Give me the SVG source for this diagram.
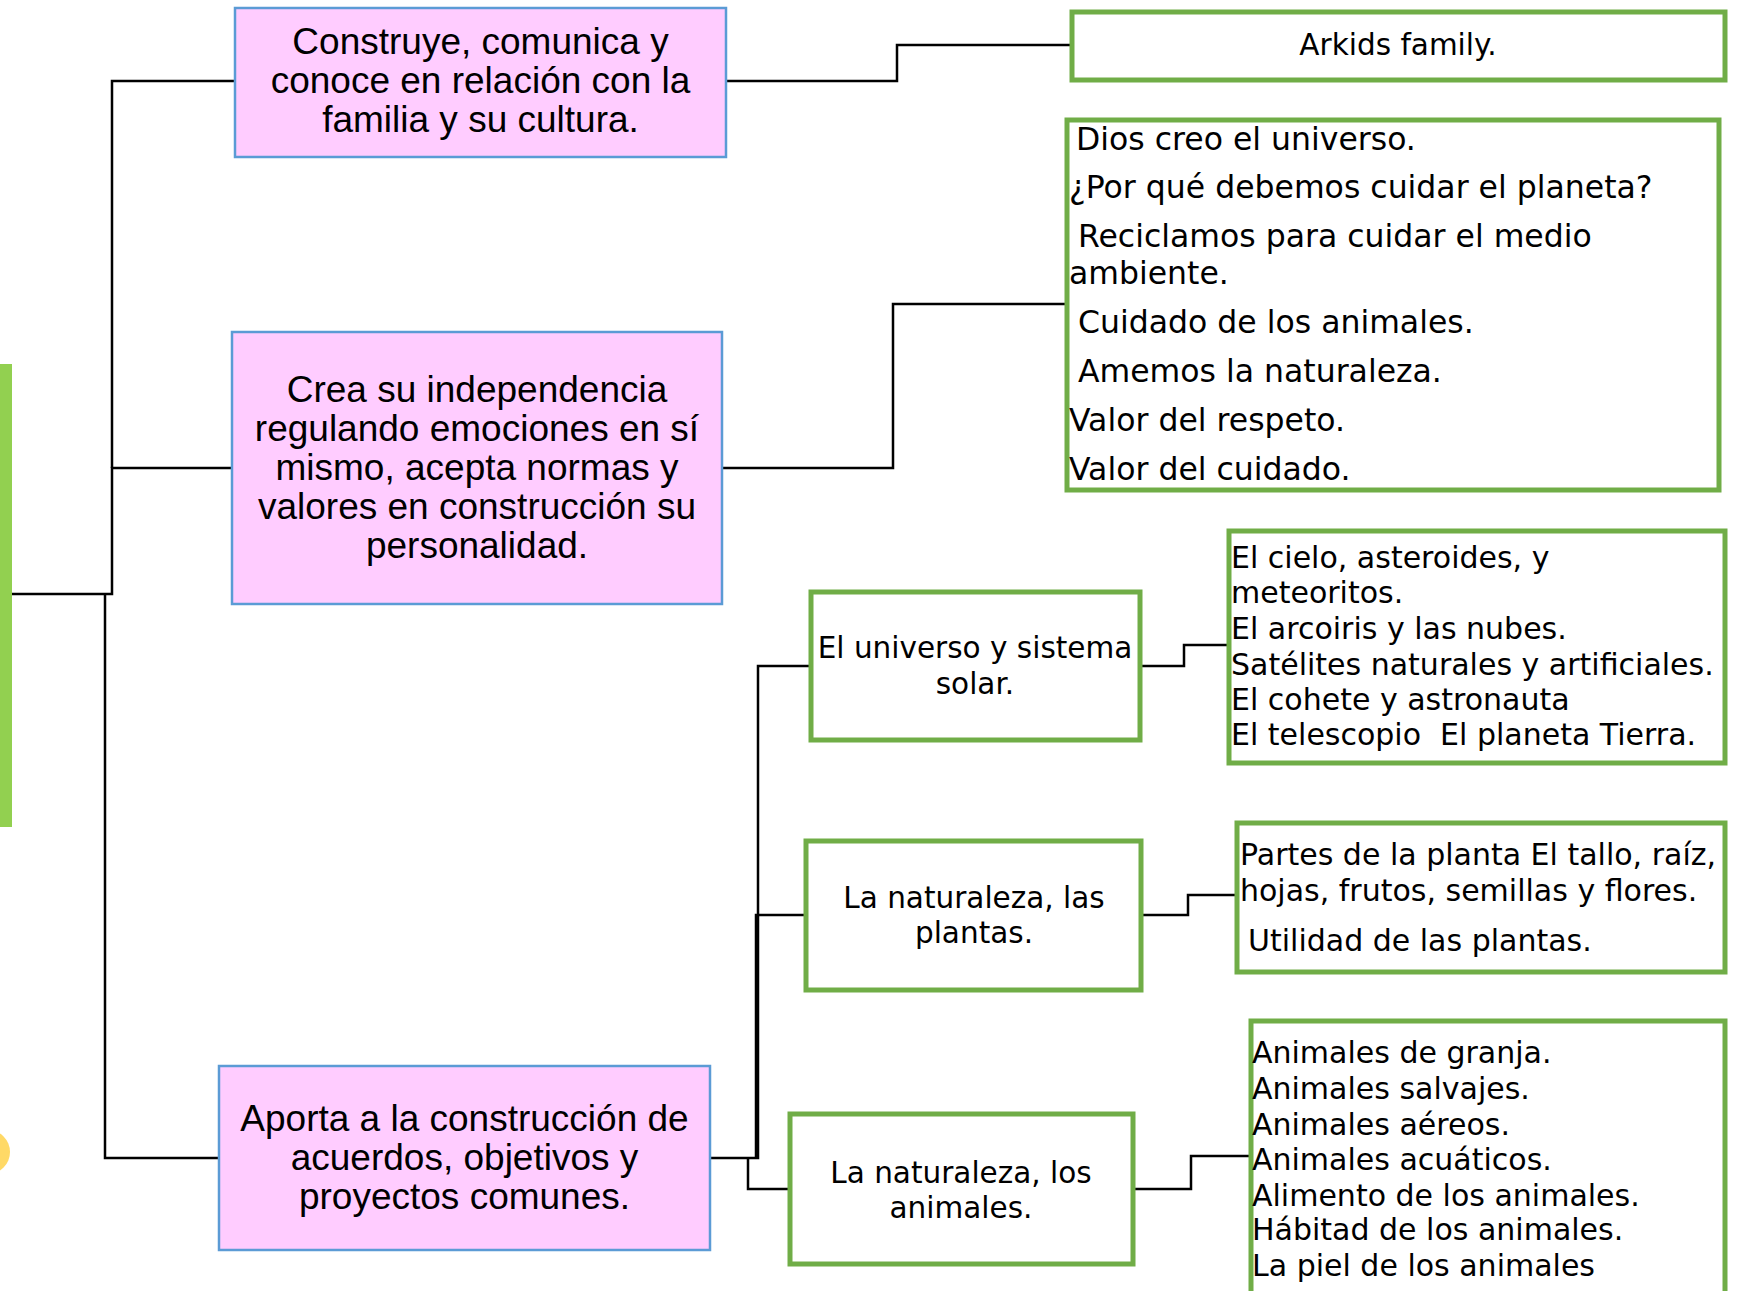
<svg xmlns="http://www.w3.org/2000/svg" width="1738" height="1291" viewBox="0 0 1738 1291">
<style>
.pink{fill:#ffccff;stroke:#5b9bd5;stroke-width:2.5}
.green{fill:#ffffff;stroke:#70ad47;stroke-width:5}
.pt{font-family:"Liberation Sans",Arial,sans-serif;font-size:37px;fill:#000;text-anchor:middle}
.gt{font-family:"DejaVu Sans",sans-serif;font-size:30px;fill:#000;white-space:pre}
.gv{font-family:"DejaVu Sans",sans-serif;font-size:31.5px;fill:#000}
.gc{font-family:"DejaVu Sans",sans-serif;font-size:29.5px;fill:#000;text-anchor:middle}
.con{fill:none;stroke:#000;stroke-width:2.5}
</style>
<rect width="1738" height="1291" fill="#ffffff"/>
<g id="root-bar"><rect x="-10" y="364" width="22" height="463" fill="#92d050"/></g>
<g id="yellow-dot"><circle cx="-12" cy="1152" r="22" fill="#ffd966"/></g>
<g id="connectors">
<path class="con" d="M12 594 H112 V468 H232"/>
<path class="con" d="M112 468 V81 H235"/>
<path class="con" d="M105 594 V1158 H219"/>
<path class="con" d="M726 81 H897 V45 H1072"/>
<path class="con" d="M722 468 H893 V304 H1067"/>
<path class="con" d="M710 1158 H758 V666 H811"/>
<path class="con" d="M756 1158 V915 H806"/>
<path class="con" d="M748 1158 V1189 H790"/>
<path class="con" d="M1140 666 H1184 V645 H1229"/>
<path class="con" d="M1141 915 H1188 V895 H1237"/>
<path class="con" d="M1133 1189 H1191 V1156 H1251"/>
</g>
<g id="n1"><rect class="pink" x="235" y="8" width="491" height="149"/>
<text class="pt" x="480.5" y="54">Construye, comunica y</text>
<text class="pt" x="480.5" y="93">conoce en relación con la</text>
<text class="pt" x="480.5" y="132">familia y su cultura.</text></g>
<g id="n2"><rect class="pink" x="232" y="332" width="490" height="272"/>
<text class="pt" x="477" y="402">Crea su independencia</text>
<text class="pt" x="477" y="441">regulando emociones en sí</text>
<text class="pt" x="477" y="480">mismo, acepta normas y</text>
<text class="pt" x="477" y="519">valores en construcción su</text>
<text class="pt" x="477" y="558">personalidad.</text></g>
<g id="n3"><rect class="pink" x="219" y="1066" width="491" height="184"/>
<text class="pt" x="464.5" y="1131">Aporta a la construcción de</text>
<text class="pt" x="464.5" y="1170">acuerdos, objetivos y</text>
<text class="pt" x="464.5" y="1209">proyectos comunes.</text></g>
<g id="arkids"><rect class="green" x="1072" y="12" width="653" height="68"/>
<text class="gc" x="1398" y="55">Arkids family.</text></g>
<g id="valores"><rect class="green" x="1067" y="120" width="652" height="370"/>
<text class="gv" x="1076" y="150" font-size="30">Dios creo el universo.</text>
<text class="gv" x="1069" y="198">¿Por qué debemos cuidar el planeta?</text>
<text class="gv" x="1078" y="247">Reciclamos para cuidar el medio</text>
<text class="gv" x="1069" y="284">ambiente.</text>
<text class="gv" x="1078" y="333">Cuidado de los animales.</text>
<text class="gv" x="1078" y="382">Amemos la naturaleza.</text>
<text class="gv" x="1069" y="431">Valor del respeto.</text>
<text class="gv" x="1069" y="480">Valor del cuidado.</text></g>
<g id="universo"><rect class="green" x="811" y="592" width="329" height="148"/>
<text class="gc" x="975" y="658">El universo y sistema</text>
<text class="gc" x="975" y="694">solar.</text></g>
<g id="cielo"><rect class="green" x="1229" y="531" width="496" height="232"/>
<text class="gt" x="1231" y="568">El cielo, asteroides, y</text>
<text class="gt" x="1231" y="603">meteoritos.</text>
<text class="gt" x="1231" y="639">El arcoiris y las nubes.</text>
<text class="gt" x="1231" y="675">Satélites naturales y artificiales.</text>
<text class="gt" x="1231" y="710">El cohete y astronauta</text>
<text class="gt" x="1231" y="745" xml:space="preserve">El telescopio  El planeta Tierra.</text></g>
<g id="plantas"><rect class="green" x="806" y="841" width="335" height="149"/>
<text class="gc" x="974" y="908" font-size="30.5">La naturaleza, las</text>
<text class="gc" x="974" y="943" font-size="30.5">plantas.</text></g>
<g id="plantas-det"><rect class="green" x="1237" y="823" width="488" height="149"/>
<text class="gt" x="1240" y="865">Partes de la planta El tallo, raíz,</text>
<text class="gt" x="1240" y="901">hojas, frutos, semillas y flores.</text>
<text class="gt" x="1248" y="951">Utilidad de las plantas.</text></g>
<g id="animales"><rect class="green" x="790" y="1114" width="343" height="150"/>
<text class="gc" x="961" y="1183">La naturaleza, los</text>
<text class="gc" x="961" y="1218">animales.</text></g>
<g id="animales-det"><rect class="green" x="1251" y="1021" width="474" height="276"/>
<text class="gt" x="1252" y="1063" font-size="30.5">Animales de granja.</text>
<text class="gt" x="1252" y="1099" font-size="30.5">Animales salvajes.</text>
<text class="gt" x="1252" y="1135" font-size="30.5">Animales aéreos.</text>
<text class="gt" x="1252" y="1170" font-size="30.5">Animales acuáticos.</text>
<text class="gt" x="1252" y="1206" font-size="30.5">Alimento de los animales.</text>
<text class="gt" x="1252" y="1240" font-size="30.5">Hábitad de los animales.</text>
<text class="gt" x="1252" y="1276" font-size="30.5">La piel de los animales</text></g>
</svg>
